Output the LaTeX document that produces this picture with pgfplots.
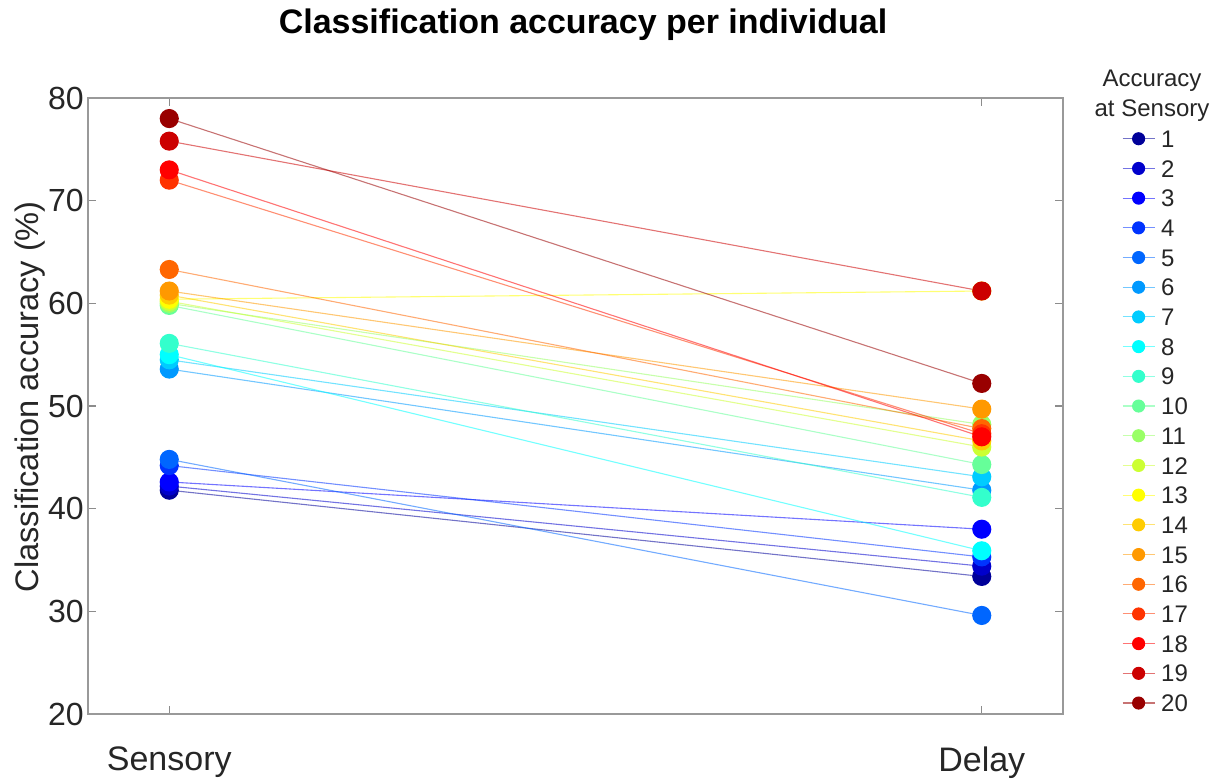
\documentclass[border=0pt]{standalone}
\usepackage{pgfplots}
\pgfplotsset{compat=1.18}
\usepackage{fontspec}
\setmainfont{Liberation Sans}
\definecolor{c1}{rgb}{0,0,0.6}
\definecolor{c2}{rgb}{0,0,0.8}
\definecolor{c3}{rgb}{0,0,1}
\definecolor{c4}{rgb}{0,0.2,1}
\definecolor{c5}{rgb}{0,0.4,1}
\definecolor{c6}{rgb}{0,0.6,1}
\definecolor{c7}{rgb}{0,0.8,1}
\definecolor{c8}{rgb}{0,1,1}
\definecolor{c9}{rgb}{0.2,1,0.8}
\definecolor{c10}{rgb}{0.4,1,0.6}
\definecolor{c11}{rgb}{0.6,1,0.4}
\definecolor{c12}{rgb}{0.8,1,0.2}
\definecolor{c13}{rgb}{1,1,0}
\definecolor{c14}{rgb}{1,0.8,0}
\definecolor{c15}{rgb}{1,0.6,0}
\definecolor{c16}{rgb}{1,0.4,0}
\definecolor{c17}{rgb}{1,0.2,0}
\definecolor{c18}{rgb}{1,0,0}
\definecolor{c19}{rgb}{0.8,0,0}
\definecolor{c20}{rgb}{0.6,0,0}
\definecolor{tickgray}{rgb}{0.15,0.15,0.15}
\pgfplotsset{
  myline/.style={color=#1, line width=0.55pt, draw opacity=0.55, mark=*, mark size=4.5pt,
    mark options={solid, draw opacity=1, fill opacity=1, fill=#1}},
}
\begin{document}
\begin{tikzpicture}
\begin{axis}[
  at={(0,0)}, anchor=south west,
  scale only axis, width=487.5pt, height=308pt,
  xmin=-0.1, xmax=1.1, ymin=20, ymax=80,
  xtick={0,1}, xticklabels={Sensory,Delay},
  ytick={20,30,40,50,60,70,80},
  tick align=inside,
  major tick length=4pt,
  axis line style={black!40, line width=0.7pt},
  every tick/.style={black!45, line width=0.7pt},
  /pgf/number format/assume math mode=true,
  yticklabel style={font=\fontsize{16}{19}\selectfont, text=tickgray, inner xsep=2pt},
  xticklabel style={font=\fontsize{17}{20}\selectfont, text=tickgray, inner sep=0pt, yshift=-16pt, anchor=north},
  ylabel={Classification accuracy (\%)},
  every axis y label/.style={at={(axis description cs:-0.0595,0.515)}, rotate=90, anchor=center, font=\fontsize{16.3}{19}\selectfont, text=tickgray},
  legend style={draw=none, fill=none, at={(1.054,0.955)}, anchor=north west,
    font=\fontsize{12}{14}\selectfont, text=tickgray,
    nodes={inner sep=0pt, text height=8.6pt, text depth=0pt, anchor=west},
    row sep=6.25pt, column sep=3pt, legend cell align=left},
  legend image code/.code={
    \draw[#1, mark=none] (0pt,0pt) -- (16pt,0pt);
    \draw[#1, mark size=3pt] plot coordinates {(8pt,0pt)};
  },
]
\addplot[myline=c1] coordinates {(0,41.8) (1,33.4)}; \addlegendentry{1}
\addplot[myline=c2] coordinates {(0,42.2) (1,34.4)}; \addlegendentry{2}
\addplot[myline=c3] coordinates {(0,42.6) (1,38.0)}; \addlegendentry{3}
\addplot[myline=c4] coordinates {(0,44.2) (1,35.3)}; \addlegendentry{4}
\addplot[myline=c5] coordinates {(0,44.8) (1,29.6)}; \addlegendentry{5}
\addplot[myline=c6] coordinates {(0,53.6) (1,41.8)}; \addlegendentry{6}
\addplot[myline=c7] coordinates {(0,54.5) (1,43.1)}; \addlegendentry{7}
\addplot[myline=c8] coordinates {(0,55.0) (1,35.9)}; \addlegendentry{8}
\addplot[myline=c9] coordinates {(0,56.1) (1,41.1)}; \addlegendentry{9}
\addplot[myline=c10] coordinates {(0,59.8) (1,44.3)}; \addlegendentry{10}
\addplot[myline=c11] coordinates {(0,60.0) (1,48.2)}; \addlegendentry{11}
\addplot[myline=c12] coordinates {(0,60.2) (1,46.0)}; \addlegendentry{12}
\addplot[myline=c13] coordinates {(0,60.4) (1,61.2)}; \addlegendentry{13}
\addplot[myline=c14] coordinates {(0,60.8) (1,46.6)}; \addlegendentry{14}
\addplot[myline=c15] coordinates {(0,61.2) (1,49.7)}; \addlegendentry{15}
\addplot[myline=c16] coordinates {(0,63.3) (1,47.8)}; \addlegendentry{16}
\addplot[myline=c17] coordinates {(0,72.0) (1,47.3)}; \addlegendentry{17}
\addplot[myline=c18] coordinates {(0,73.0) (1,47.0)}; \addlegendentry{18}
\addplot[myline=c19] coordinates {(0,75.8) (1,61.2)}; \addlegendentry{19}
\addplot[myline=c20] coordinates {(0,78.0) (1,52.2)}; \addlegendentry{20}
\end{axis}
\node[font=\bfseries\fontsize{17}{20}\selectfont] at (247.5pt,344.5pt) {Classification accuracy per individual};
\node[font=\fontsize{12}{15}\selectfont, text=tickgray, align=center] at (532pt,309pt) {Accuracy\\at Sensory};
\pgfresetboundingbox
\path (-44pt,-32pt) rectangle (563.5pt,357pt);
\end{tikzpicture}
\end{document}
